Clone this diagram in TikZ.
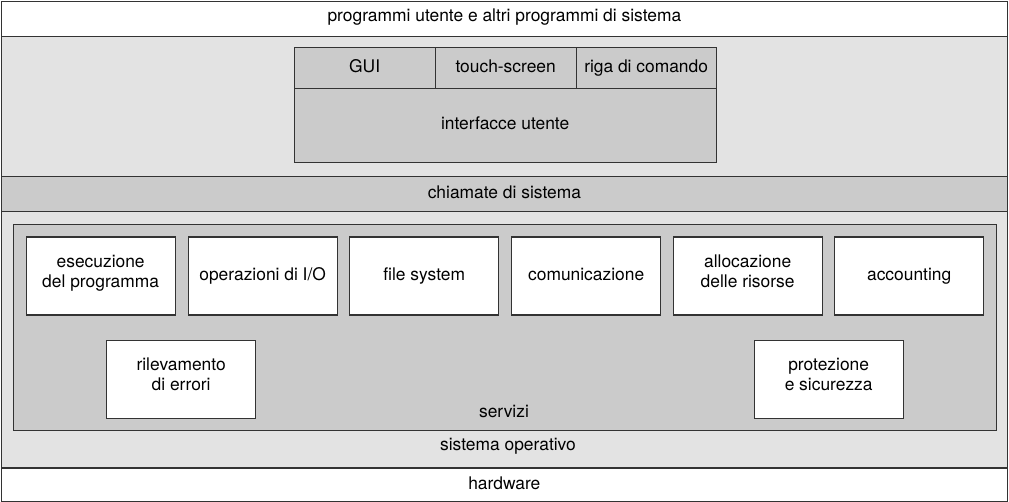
\documentclass[tikz,border=0pt]{standalone}
\usepackage{fontspec}
\setmainfont{TeX Gyre Heros}
\definecolor{edge}{HTML}{333333}
\definecolor{lightg}{HTML}{E3E3E3}
\definecolor{midg}{HTML}{CBCBCB}
\begin{document}
\begin{tikzpicture}[x=1pt,y=-1pt,
  lay/.style={draw=edge, line width=1.3pt, inner sep=0pt, anchor=north west,
    font=\fontsize{17.4}{20}\selectfont, align=center, text height=12.5pt, text depth=4pt},
  svc/.style={lay, fill=white, minimum width=149pt, minimum height=78pt},
  twoline/.style={text height=32.5pt, text depth=10pt},
  txt/.style={inner sep=0pt, font=\fontsize{17.4}{20}\selectfont}]
\useasboundingbox (0,0) rectangle (1009,502);
% bands
\node[lay, fill=white, minimum width=1006pt, minimum height=35.5pt, text depth=8pt] (top) at (0.7,0.7) {programmi utente e altri programmi di sistema};
\node[lay, fill=lightg, minimum width=1006pt, minimum height=140pt] (ui) at (0.7,36.2) {};
\node[lay, fill=midg, minimum width=1006pt, minimum height=35pt] (calls) at (0.7,176.2) {chiamate di sistema};
\node[lay, fill=lightg, minimum width=1006pt, minimum height=256pt] (os) at (0.7,211.2) {};
\node[lay, fill=white, minimum width=1006pt, minimum height=34pt] (hw) at (0.7,467.2) {hardware};
% user interfaces
\node[lay, fill=midg, minimum width=422pt, minimum height=74pt] (iface) at (293.5,88) {interfacce utente};
\node[lay, fill=midg, minimum width=141pt, minimum height=41pt] (gui) at (293.5,47) {GUI};
\node[lay, fill=midg, minimum width=141pt, minimum height=41pt] (touch) at (434.5,47) {touch-screen};
\node[lay, fill=midg, minimum width=140pt, minimum height=41pt] (cli) at (575.5,47) {riga di comando};
% services
\node[lay, fill=midg, minimum width=983pt, minimum height=206pt] (serv) at (13,224) {};
\node[svc, twoline] (exec) at (25.5,236.5) {esecuzione\\del programma};
\node[svc] (io) at (187.5,236.5) {operazioni di I/O};
\node[svc] (fs) at (349,236.5) {file system};
\node[svc] (comm) at (511,236.5) {comunicazione};
\node[svc, twoline] (alloc) at (672.5,236.5) {allocazione\\delle risorse};
\node[svc] (acct) at (834,236.5) {accounting};
\node[svc, twoline] (err) at (106,340) {rilevamento\\di errori};
\node[svc, twoline] (prot) at (753.5,340) {protezione\\e sicurezza};
\node[txt] (servl) at (504,411) {servizi};
\node[txt] (osl) at (508,446.5) {sistema operativo};
\end{tikzpicture}
\end{document}
